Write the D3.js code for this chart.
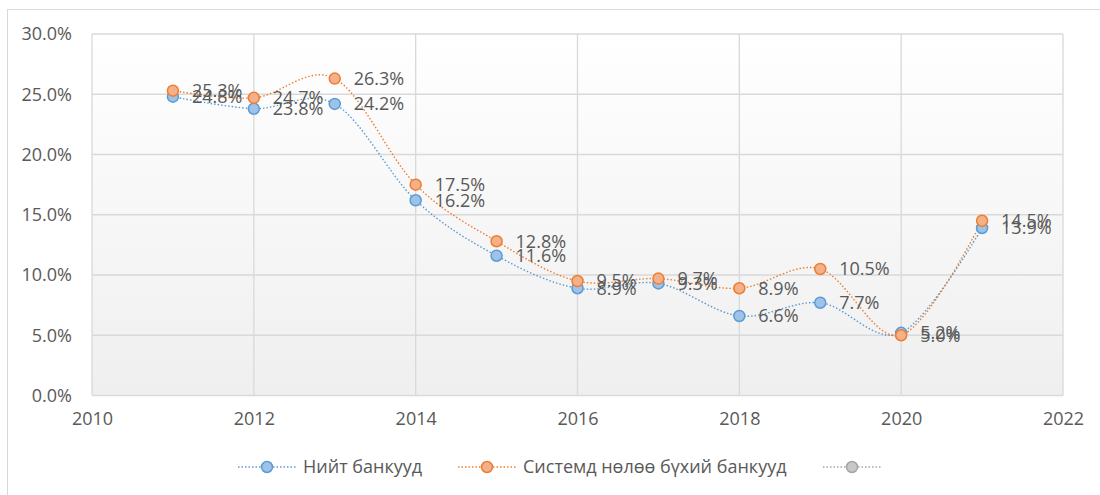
<!DOCTYPE html>
<html>
<head>
<meta charset="utf-8">
<script src="https://cdn.jsdelivr.net/npm/d3@7"></script>
<style>
  html, body { margin: 0; padding: 0; background: #ffffff; }
  svg { display: block; }
  text { font-family: "Open Sans", "Liberation Sans", sans-serif; fill: #595959; }
</style>
</head>
<body>
<svg id="chart" width="1100" height="495"></svg>
<script>
// ---- data ----
const years = [2011, 2012, 2013, 2014, 2015, 2016, 2017, 2018, 2019, 2020, 2021];
const totalBanks = [24.8, 23.8, 24.2, 16.2, 11.6, 8.9, 9.3, 6.6, 7.7, 5.2, 13.9];
const systemicBanks = [25.3, 24.7, 26.3, 17.5, 12.8, 9.5, 9.7, 8.9, 10.5, 5.0, 14.5];
const seriesNames = ["Нийт банкууд", "Системд нөлөө бүхий банкууд", ""];
const xTicks = [2010, 2012, 2014, 2016, 2018, 2020, 2022];
const yTicks = [0, 5, 10, 15, 20, 25, 30];

const series = [
  { name: seriesNames[0], values: totalBanks, stroke: "#5b9bd5", fill: "#9fc2e8" },
  { name: seriesNames[1], values: systemicBanks, stroke: "#ed7d31", fill: "#f4b088" },
  { name: seriesNames[2], values: [], stroke: "#a5a5a5", fill: "#c8c8c8" }
];

const FS = 18;
const svg = d3.select("#chart");

// outer chart border
svg.append("rect").attr("x", 7.5).attr("y", 9.5).attr("width", 1100).attr("height", 500)
  .attr("fill", "#ffffff").attr("stroke", "#d9d9d9").attr("stroke-width", 1);

const pLeft = 92, pRight = 1063, pTop = 34, pBottom = 395.5;

const x = d3.scaleLinear().domain([2010, 2022]).range([pLeft, pRight]);
const y = d3.scaleLinear().domain([0, 30]).range([pBottom, pTop]);

// plot background gradient
const defs = svg.append("defs");
const grad = defs.append("linearGradient").attr("id", "bg").attr("x1", 0).attr("y1", 0).attr("x2", 0).attr("y2", 1);
grad.append("stop").attr("offset", "0%").attr("stop-color", "#ffffff");
grad.append("stop").attr("offset", "100%").attr("stop-color", "#efefef");
svg.append("rect").attr("x", pLeft).attr("y", pTop).attr("width", pRight - pLeft).attr("height", pBottom - pTop)
  .attr("fill", "url(#bg)");

// gridlines
const grid = svg.append("g").attr("stroke", "#d9d9d9").attr("stroke-width", 1.3);
grid.selectAll("line.h").data(yTicks).join("line").attr("class", "h")
  .attr("x1", pLeft).attr("x2", pRight).attr("y1", d => y(d)).attr("y2", d => y(d));
grid.selectAll("line.v").data(xTicks).join("line").attr("class", "v")
  .attr("y1", pTop).attr("y2", pBottom).attr("x1", d => x(d)).attr("x2", d => x(d));

// axes
const yAxis = d3.axisLeft(y).tickValues(yTicks).tickSize(0).tickPadding(20)
  .tickFormat(d => d.toFixed(1) + "%");
svg.append("g").attr("transform", `translate(${pLeft},0)`).call(yAxis)
  .call(g => g.select(".domain").remove())
  .call(g => g.selectAll("text").attr("font-size", FS).attr("fill", "#595959")
    .style("font-family", "'Open Sans', sans-serif"));

const xAxis = d3.axisBottom(x).tickValues(xTicks).tickSize(0).tickPadding(17)
  .tickFormat(d3.format("d"));
svg.append("g").attr("transform", `translate(0,${pBottom})`).call(xAxis)
  .call(g => g.select(".domain").remove())
  .call(g => g.selectAll("text").attr("font-size", FS).attr("fill", "#595959")
    .style("font-family", "'Open Sans', sans-serif"));

// lines
const line = d3.line().x(d => x(d[0])).y(d => y(d[1])).curve(d3.curveCardinal.tension(0));

series.forEach(s => {
  const pts = s.values.map((v, i) => [years[i], v]);
  if (!pts.length) return;
  svg.append("path").datum(pts).attr("d", line)
    .attr("fill", "none").attr("stroke", s.stroke).attr("stroke-width", 1.4)
    .attr("stroke-dasharray", "1.5 2");
});

series.forEach(s => {
  const pts = s.values.map((v, i) => [years[i], v]);
  svg.append("g").selectAll("circle").data(pts).join("circle")
    .attr("cx", d => x(d[0])).attr("cy", d => y(d[1])).attr("r", 5.5)
    .attr("fill", s.fill).attr("stroke", s.stroke).attr("stroke-width", 1.5);
});

// data labels (placed right of each point, as in the reference)
series.forEach(s => {
  const pts = s.values.map((v, i) => [years[i], v]);
  svg.append("g").selectAll("text").data(pts).join("text")
    .attr("x", d => x(d[0]) + 19).attr("y", d => y(d[1]))
    .attr("dy", "0.35em").attr("font-size", FS)
    .text(d => d[1].toFixed(1) + "%");
});

// legend
const legendItems = [
  { s: series[0], lx: 238, tx: 303 },
  { s: series[1], lx: 458, tx: 523 },
  { s: series[2], lx: 823, tx: 888 }
];
const ly = 467;
legendItems.forEach(it => {
  svg.append("line").attr("x1", it.lx).attr("x2", it.lx + 58).attr("y1", ly).attr("y2", ly)
    .attr("stroke", it.s.stroke).attr("stroke-width", 1.4).attr("stroke-dasharray", "1.5 2");
  svg.append("circle").attr("cx", it.lx + 29).attr("cy", ly).attr("r", 5.5)
    .attr("fill", it.s.fill).attr("stroke", it.s.stroke).attr("stroke-width", 1.5);
  svg.append("text").attr("x", it.tx).attr("y", ly).attr("dy", "0.35em")
    .attr("font-size", FS).text(it.s.name);
});
</script>
</body>
</html>
